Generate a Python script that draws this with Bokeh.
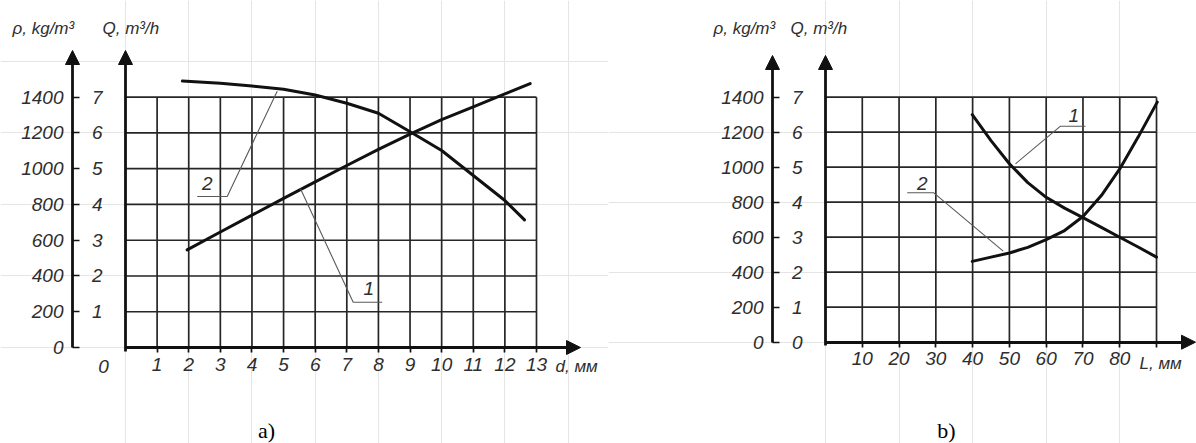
from bokeh.plotting import figure
from bokeh.models import LinearAxis, Range1d, FixedTicker, Arrow, NormalHead
from bokeh.layouts import row
from bokeh.embed import file_html
from bokeh.resources import INLINE
from bokeh.core.properties import value

# ---------------- data ----------------
RHO_PER_Q = 200.0          # 1400 kg/m3 <-> 7 m3/h on the twin scales
rho_ticks = [0, 200, 400, 600, 800, 1000, 1200, 1400]

# panel a) : x = d, mm
a_x_ticks = [1, 2, 3, 4, 5, 6, 7, 8, 9, 10, 11, 12, 13]
a_q_ticks = [1, 2, 3, 4, 5, 6, 7]
a_curve1_d = [1.95, 3, 4, 5, 6, 7, 8, 9, 10, 11, 12, 12.8]
a_curve1_rho = [546, 646, 740, 834, 926, 1018, 1108, 1194, 1274, 1346, 1418, 1476]
a_curve2_d = [1.8, 3, 4, 5, 6, 7, 8, 9.07, 10, 11, 12, 12.62]
a_curve2_q = [7.45, 7.39, 7.31, 7.22, 7.06, 6.83, 6.55, 6.0, 5.51, 4.81, 4.11, 3.57]

# panel b) : x = L, mm
b_x_ticks = [10, 20, 30, 40, 50, 60, 70, 80, 90]
b_q_ticks = [0, 1, 2, 3, 4, 5, 6, 7]
b_curve1_L = [39.9, 45, 50, 55, 60, 65, 70, 75, 80, 85, 90]
b_curve1_rho = [1300, 1152, 1020, 912, 828, 766, 712, 656, 600, 544, 486]
b_curve2_L = [39.9, 45, 50, 55, 60, 65, 70, 75, 80, 85, 90.2]
b_curve2_q = [2.31, 2.43, 2.55, 2.71, 2.93, 3.19, 3.59, 4.19, 4.95, 5.86, 6.86]

# ---------------- styling / layout ----------------
INK = "#111111"
GRID = "#262626"
LEAD = "#5a5a5a"
TXT = "#2e2e2e"
FONT = "Liberation Sans"
H = 443
PAGE = 0


def make_panel(width, page_left, x0_px, x_scale, y0_px, y_scale, cfg):
    fx = lambda px: (px - x0_px) / x_scale
    fy = lambda py: (y0_px - py) / y_scale
    p = figure(width=width, height=H,
               x_range=Range1d(fx(page_left), fx(page_left + width)),
               y_range=Range1d(fy(PAGE + H), fy(PAGE)),
               output_backend="svg", toolbar_location=None,
               x_axis_location=None, y_axis_location=None,
               min_border=0, outline_line_color=None,
               background_fill_color="white", border_fill_color="white")
    p.extra_y_ranges = {"rho": Range1d(fy(PAGE + H) * RHO_PER_Q, fy(PAGE) * RHO_PER_Q)}

    x_ticks, q_ticks = cfg["x_ticks"], cfg["q_ticks"]
    x_max, q_max = x_ticks[-1], 7
    q_tip = fy(cfg["y_tip_px"])
    x_tip = fx(cfg["x_tip_px"])
    rho_x = fx(cfg["rho_axis_px"])

    # grid
    p.segment(x0=x_ticks, y0=[0] * len(x_ticks), x1=x_ticks, y1=[q_max] * len(x_ticks),
              line_color=GRID, line_width=1.7)
    gq = [q for q in range(1, q_max + 1)]
    p.segment(x0=[0] * len(gq), y0=gq, x1=[x_max] * len(gq), y1=gq,
              line_color=GRID, line_width=1.7)

    def style(ax):
        ax.axis_line_width = 2.8
        ax.axis_line_color = INK
        ax.major_tick_line_color = INK
        ax.major_tick_line_width = 1.7
        ax.minor_tick_line_color = None
        ax.major_label_text_font = FONT
        ax.major_label_text_font_style = "italic"
        ax.major_label_text_font_size = "19px"
        ax.major_label_text_color = TXT

    qax = LinearAxis(ticker=FixedTicker(ticks=q_ticks), fixed_location=0,
                     bounds=(-0.1, q_tip - 0.2), major_tick_in=0, major_tick_out=0,
                     major_label_standoff=23)
    style(qax)
    p.add_layout(qax, "left")

    rax = LinearAxis(y_range_name="rho", ticker=FixedTicker(ticks=rho_ticks),
                     fixed_location=rho_x, bounds=(0, (q_tip - 0.2) * RHO_PER_Q),
                     major_tick_in=7, major_tick_out=0, major_label_standoff=9)
    style(rax)
    p.add_layout(rax, "left")

    xax = LinearAxis(ticker=FixedTicker(ticks=x_ticks), fixed_location=0,
                     bounds=(0, x_tip - 0.1 * (x_tip - x_max)), major_tick_out=5,
                     major_tick_in=0, major_label_standoff=5)
    style(xax)
    if cfg.get("overrides"):
        xax.major_label_overrides = cfg["overrides"]
    p.add_layout(xax, "below")

    # arrow heads
    for (xs, ys, xe, ye) in [(0, q_tip - 1, 0, q_tip), (rho_x, q_tip - 1, rho_x, q_tip),
                             (x_tip - 1, 0, x_tip, 0)]:
        p.add_layout(Arrow(end=NormalHead(size=14, fill_color=INK, line_color=INK, line_width=1),
                           x_start=xs, y_start=ys, x_end=xe, y_end=ye, line_alpha=0))

    # curves
    c = cfg["curves"]
    p.line(c["rho_x"], c["rho_y"], y_range_name="rho", line_width=3, line_color=INK,
           line_join="round", line_cap="round")
    p.line(c["q_x"], c["q_y"], line_width=3, line_color=INK,
           line_join="round", line_cap="round")

    # leader callouts
    for (lab, pts, txt_pt) in cfg["leaders"]:
        p.line([fx(a) for a, b in pts], [fy(b) for a, b in pts], line_color=LEAD, line_width=1.1)
        p.text(x=[fx(txt_pt[0])], y=[fy(txt_pt[1])], text=[lab], text_font=value(FONT),
               text_font_style="italic", text_font_size="19px", text_color=TXT,
               text_align="center", text_baseline="middle")

    # titles and free texts
    for (t, px, py, size, font, style_, align) in cfg["texts"]:
        p.text(x=[fx(px)], y=[fy(py)], text=[t], text_font=value(font),
               text_font_style=style_, text_font_size=size,
               text_color=TXT if font == FONT else "#000000",
               text_align=align, text_baseline="middle")
    return p


cfg_a = dict(
    x_ticks=a_x_ticks, q_ticks=a_q_ticks,
    y_tip_px=50, x_tip_px=580, rho_axis_px=72,
    curves=dict(rho_x=a_curve1_d, rho_y=a_curve1_rho, q_x=a_curve2_d, q_y=a_curve2_q),
    leaders=[("2", [(196.7, 196), (226.7, 196), (276.7, 90.7)], (206.7, 183.3)),
             ("1", [(381.7, 301.7), (352.7, 301.7), (300, 188.3)], (368.3, 288.3))],
    texts=[("ρ, kg/m³", 12, 28, "17px", FONT, "italic", "left"),
           ("Q, m³/h", 102, 28, "17px", FONT, "italic", "left"),
           ("0", 103, 366, "19px", FONT, "italic", "center"),
           ("d, мм", 555, 366, "17px", FONT, "italic", "left"),
           ("a)", 266, 430, "22px", "Liberation Serif", "normal", "center")],
)

cfg_b = dict(
    x_ticks=b_x_ticks, q_ticks=b_q_ticks,
    y_tip_px=55, x_tip_px=1195, rho_axis_px=772,
    overrides={90: ""},
    curves=dict(rho_x=b_curve1_L, rho_y=b_curve1_rho, q_x=b_curve2_L, q_y=b_curve2_q),
    leaders=[("1", [(1085, 125.7), (1060, 125.7), (1015, 163.3)], (1073.3, 115)),
             ("2", [(906.7, 192.3), (933.3, 192.3), (1002.7, 250.7)], (921.7, 183.3))],
    texts=[("ρ, kg/m³", 713, 28, "17px", FONT, "italic", "left"),
           ("Q, m³/h", 790, 28, "17px", FONT, "italic", "left"),
           ("L, мм", 1139, 363, "17px", FONT, "italic", "left"),
           ("b)", 946, 430, "22px", "Liberation Serif", "normal", "center")],
)

pa = make_panel(608, 0, 125, 31.615, 347, 35.757, cfg_a)
pb = make_panel(588, 608, 825, 3.678, 341.7, 35.0, cfg_b)

layout = row(pa, pb, spacing=0)
open("out.html", "w").write(file_html(layout, INLINE))
